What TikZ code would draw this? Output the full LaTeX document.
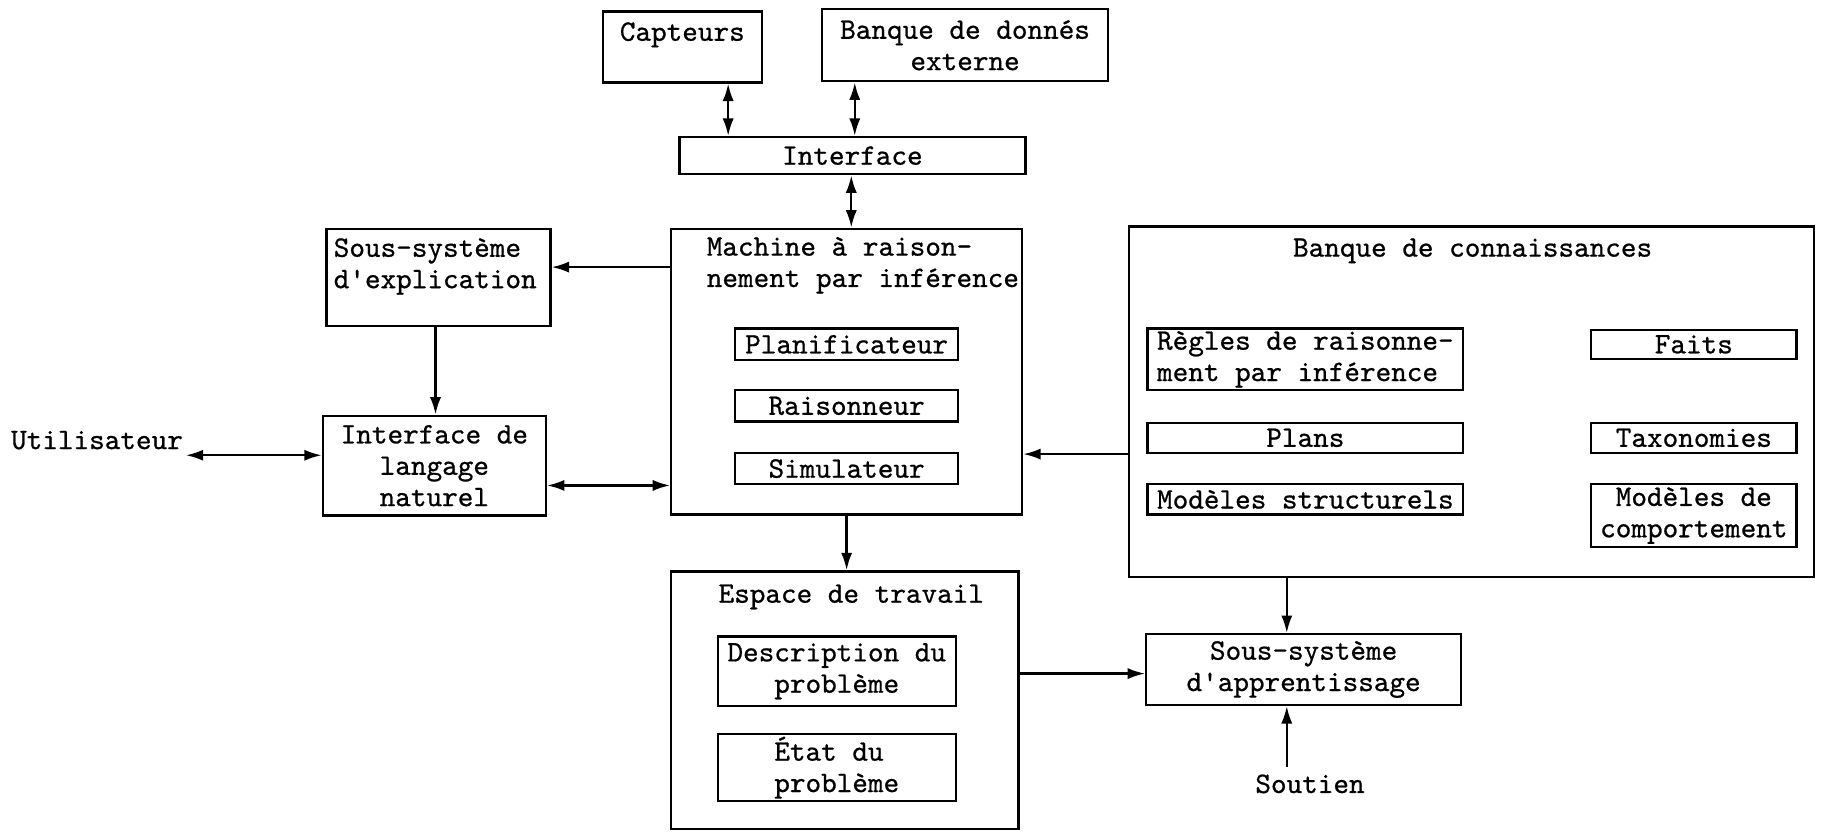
\documentclass[tikz,border=0pt]{standalone}
\usepackage{fontspec}
\newfontfamily\tw{lmmono10-regular.otf}[FakeBold=0.7]
\usetikzlibrary{arrows.meta}
\begin{document}
\begin{tikzpicture}[x=0.5pt,y=-0.5pt,
  every node/.style={font=\tw\fontsize{12.8}{13.5}\selectfont},
  box/.style={draw, line width=1pt, inner sep=0pt},
  sz/.style 2 args={minimum width=#1*0.5pt, minimum height=#2*0.5pt},
  lbl/.style={inner sep=1pt},
  arr/.style={line width=1pt, -{Latex[length=7.5pt,width=4.8pt]}},
  dbl/.style={line width=1pt, {Latex[length=7.5pt,width=4.8pt]}-{Latex[length=7.5pt,width=4.8pt]}}]
\useasboundingbox (0,0) rectangle (1568,716);

% top
\node[box, sz={137}{61}] (capt) at (587.5,40.5) {};
\node[lbl] (captT) at (587.5,30) {Capteurs};
\node[box, sz={246}{62}, align=center] (bdx) at (831,39) {Banque de donnés\\externe};
\node[box, sz={298}{32}] (intf) at (734,134) {Interface};

% machine
\node[box, sz={302}{246}] (mach) at (729,320) {};
\node[lbl, align=left] (machT) at (743,228.5) {Machine à raison-\\nement par inférence};
\node[box, sz={192}{27}] (plan) at (729,296.5) {Planificateur};
\node[box, sz={192}{27}] (rais) at (729,349.5) {Raisonneur};
\node[box, sz={192}{27}] (simu) at (729,403.5) {Simulateur};

% left
\node[box, sz={193}{84}] (sexp) at (377.5,239) {};
\node[lbl, align=left, anchor=west] (sexpT) at (285,229.5) {Sous-système\\d'explication};
\node[box, sz={192}{86}, align=center] (ilang) at (374,401) {Interface de\\langage\\naturel};
\node[lbl] (util) at (83.5,379) {Utilisateur};

% workspace
\node[box, sz={299}{222}] (esp) at (727.5,603) {};
\node[lbl] (espT) at (733,514) {Espace de travail};
\node[box, sz={205}{60}, align=center] (desc) at (720.5,578) {Description du\\problème};
\node[box, sz={205}{58}, align=left] (etat) at (720.5,661) {État du\\problème};

% knowledge base
\node[box, sz={590}{302}] (kb) at (1267,346) {};
\node[lbl] (kbT) at (1268,216) {Banque de connaissances};
\node[box, sz={272}{53}, align=left] (regl) at (1124,309.5) {Règles de raisonne-\\ment par inférence};
\node[box, sz={272}{26}] (plans) at (1124,377) {Plans};
\node[box, sz={272}{26}] (mstr) at (1124,430) {Modèles structurels};
\node[box, sz={177}{25}] (faits) at (1458.5,296.5) {Faits};
\node[box, sz={177}{26}] (taxo) at (1458.5,377) {Taxonomies};
\node[box, sz={177}{54}, align=center] (mcomp) at (1458.5,444) {Modèles de\\comportement};

% learning
\node[box, sz={271}{61}, align=center] (sapp) at (1122.5,576.5) {Sous-système\\d'apprentissage};
\node[lbl, inner sep=3pt] (sout) at (1128,675) {Soutien};

% connectors
\coordinate (xa) at (627,0);
\coordinate (xb) at (736,0);
\coordinate (xc) at (733,0);
\coordinate (ya) at (0,230);
\coordinate (xd) at (375,0);
\coordinate (ua) at (160,392);
\coordinate (yb) at (0,418);
\coordinate (yc) at (0,391);
\coordinate (xe) at (729,0);
\coordinate (yd) at (0,580);
\coordinate (xf) at (1108,0);

\draw[dbl] (capt.south -| xa) -- (intf.north -| xa);
\draw[dbl] (bdx.south -| xb) -- (intf.north -| xb);
\draw[dbl] (intf.south -| xc) -- (mach.north -| xc);
\draw[arr] (mach.west |- ya) -- (sexp.east |- ya);
\draw[arr] (sexp.south -| xd) -- (ilang.north -| xd);
\draw[dbl] (ua) -- (ua -| ilang.west);
\draw[dbl] (ilang.east |- yb) -- (mach.west |- yb);
\draw[arr] (kb.west |- yc) -- (mach.east |- yc);
\draw[arr] (mach.south -| xe) -- (esp.north -| xe);
\draw[arr] (esp.east |- yd) -- (sapp.west |- yd);
\draw[arr] (kb.south -| xf) -- (sapp.north -| xf);
\draw[arr] (sout.north -| xf) -- (sapp.south -| xf);
\end{tikzpicture}
\end{document}
